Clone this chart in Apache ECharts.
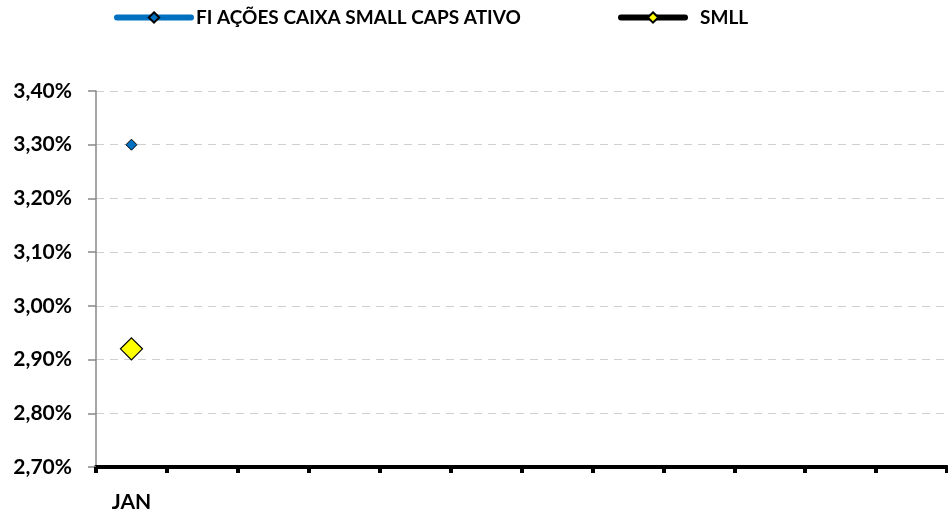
<!DOCTYPE html>
<html><head><meta charset="utf-8">
<script src="https://cdn.jsdelivr.net/npm/echarts@6/dist/echarts.min.js"></script>
<style>html,body{margin:0;padding:0;background:#fff}#c{width:948px;height:513px}</style>
</head><body><div id="c"></div>
<script>
const categories = ['JAN','','','','','','','','','','',''];
const fundName = 'FI AÇÕES CAIXA SMALL CAPS ATIVO';
const fundValues = [3.30,null,null,null,null,null,null,null,null,null,null,null];
const indexName = 'SMLL';
const indexValues = [2.92,null,null,null,null,null,null,null,null,null,null,null];
const yMin = 2.70, yMax = 3.40, yStep = 0.10;

const font = 'Lato, "Noto Sans", sans-serif';
const chart = echarts.init(document.getElementById('c'));
const legendText = {fontFamily:font, fontWeight:'bold', fontSize:19, color:'#000'};
chart.setOption({
  animation: false,
  legend: [
    {data:[{name:fundName, lineStyle:{width:6, color:'#0070C0', cap:'round'}}], left:114, top:8, padding:0,
     itemWidth:74, itemHeight:13, itemGap:0,
     textStyle:Object.assign({padding:[0,0,0,0]}, legendText)},
    {data:[{name:indexName, lineStyle:{width:6, color:'#000', cap:'round'}}], left:618, top:8, padding:0,
     itemWidth:64, itemHeight:13, itemGap:0,
     textStyle:Object.assign({padding:[0,0,0,10]}, legendText)}
  ],
  grid: {left:96, right:1, top:91, bottom:46, containLabel:false},
  xAxis: {
    type:'category', data:categories, boundaryGap:true,
    axisLine:{lineStyle:{color:'#000', width:4}},
    axisTick:{show:true, length:6, lineStyle:{color:'#000', width:4}},
    axisLabel:{fontFamily:font, fontWeight:'bold', fontSize:21, color:'#000', margin:25, interval:0},
    splitLine:{show:false}
  },
  yAxis: {
    type:'value', min:yMin, max:yMax, interval:yStep,
    axisLine:{show:true, lineStyle:{color:'#888', width:1.5}},
    axisTick:{show:true, length:8, lineStyle:{color:'#888', width:1.5}},
    axisLabel:{fontFamily:font, fontWeight:'bold', fontSize:21, color:'#000', margin:24,
      formatter: v => v.toFixed(2).replace('.',',') + '%'},
    splitLine:{show:true, lineStyle:{color:'#d0d0d0', type:[8,6], width:1.2}}
  },
  series: [
    {name:fundName, type:'line', data:fundValues, symbol:'diamond', symbolSize:11,
     itemStyle:{color:'#0070C0', borderColor:'#000', borderWidth:1},
     lineStyle:{color:'#0070C0', width:6}, connectNulls:false},
    {name:indexName, type:'line', data:indexValues, symbol:'diamond', symbolSize:22,
     itemStyle:{color:'#FFFF00', borderColor:'#000', borderWidth:1.2},
     lineStyle:{color:'#000', width:6}, connectNulls:false}
  ]
});
</script></body></html>
